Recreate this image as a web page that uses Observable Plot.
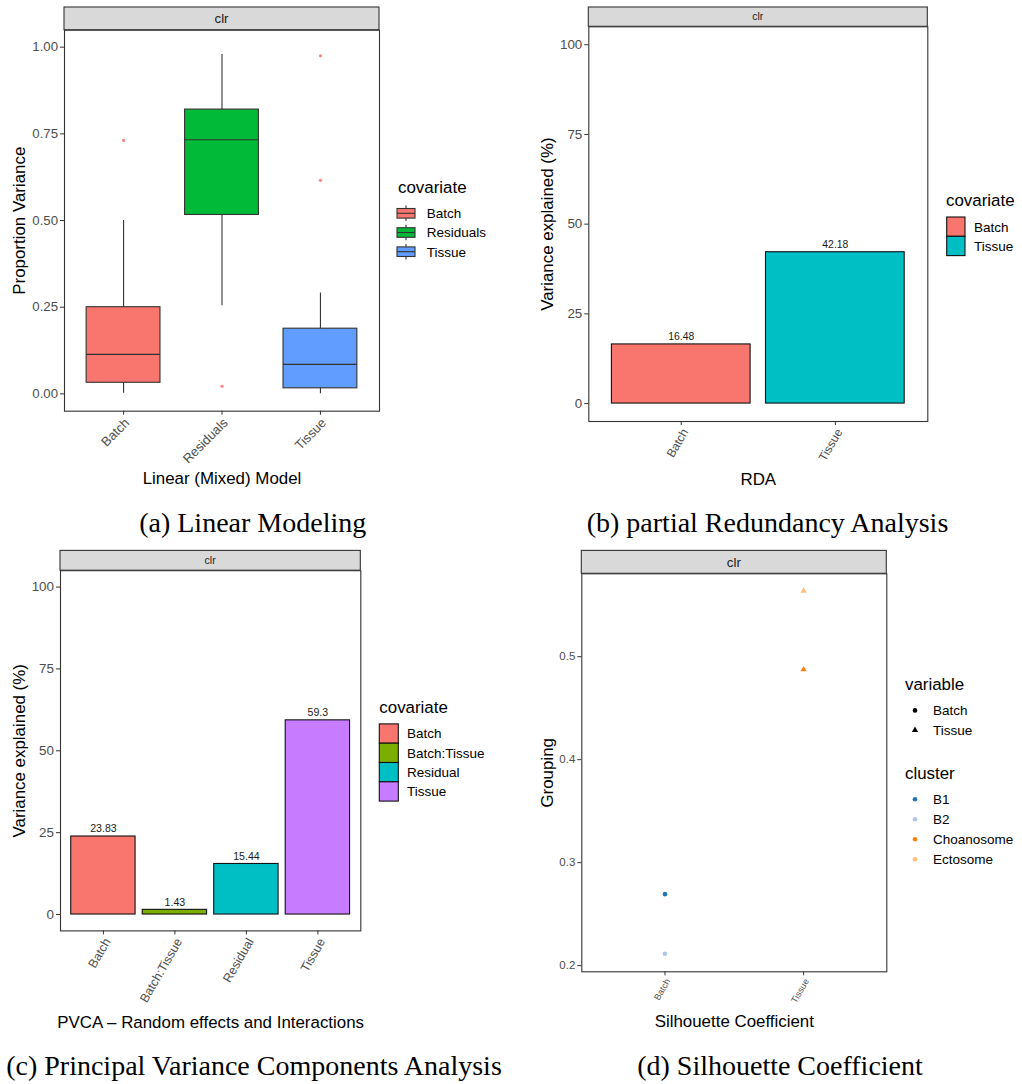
<!DOCTYPE html>
<html>
<head>
<meta charset="utf-8">
<title>Variance partitioning – clr</title>
<script src="https://cdn.jsdelivr.net/npm/d3@7"></script>
<script src="https://cdn.jsdelivr.net/npm/@observablehq/plot@0.6"></script>
<style>
  html, body { margin:0; padding:0; background:#fff; }
  #page { position:relative; width:1022px; height:1084px; overflow:hidden; background:#fff; font-family:"Liberation Sans", Arial, sans-serif; }
  .panel { position:absolute; }
  .panel svg { display:block; }
  g[aria-label="x-axis tick label"], g[aria-label="y-axis tick label"] { fill:#4d4d4d; }
  g[aria-label="x-axis label"], g[aria-label="y-axis label"] { font-size:16.9px; fill:#000; }
  g[aria-label="x-axis tick"], g[aria-label="y-axis tick"] { stroke:#333; }
  #overlay { position:absolute; left:0; top:0; pointer-events:none; }
</style>
</head>
<body>
<div id="page"></div>
<script>
// ---------------- data ----------------
const stripLabel = "clr";

// (a) Linear Modeling – boxplot summaries per covariate
const lmCovariates = ["Batch", "Residuals", "Tissue"];
const lmColors = ["#F8766D", "#00BA38", "#619CFF"];
const lmWhiskerLow = [0.002, 0.254, 0.0];
const lmQ1 = [0.032, 0.516, 0.016];
const lmMedian = [0.114, 0.733, 0.085];
const lmQ3 = [0.25, 0.82, 0.188];
const lmWhiskerHigh = [0.5, 0.979, 0.291];
const lmOutlierCovariate = ["Batch", "Residuals", "Tissue", "Tissue"];
const lmOutlierValue = [0.731, 0.022, 0.975, 0.616];
const lmYTicks = [0, 0.25, 0.5, 0.75, 1];
const lmYDomain = [-0.05, 1.049];

// (b) partial Redundancy Analysis
const rdaCovariates = ["Batch", "Tissue"];
const rdaValues = [16.48, 42.18];
const rdaColors = ["#F8766D", "#00BFC4"];

// (c) PVCA
const pvcaCovariates = ["Batch", "Batch:Tissue", "Residual", "Tissue"];
const pvcaValues = [23.83, 1.43, 15.44, 59.3];
const pvcaColors = ["#F8766D", "#7CAE00", "#00BFC4", "#C77CFF"];

const pctTicks = [0, 25, 50, 75, 100];
const pctDomain = [-5, 105];

// (d) Silhouette coefficient
const silVariables = ["Batch", "Tissue"];
const silShapes = ["circle", "triangle"];
const silClusters = ["B1", "B2", "Choanosome", "Ectosome"];
const silColors = ["#1f77b4", "#aec7e8", "#ff7f0e", "#ffbb78"];
const silPointVariable = ["Batch", "Batch", "Tissue", "Tissue"];
const silPointCluster = ["B1", "B2", "Choanosome", "Ectosome"];
const silPointValue = [0.2694, 0.2115, 0.4876, 0.5639];
const silYTicks = [0.2, 0.3, 0.4, 0.5];
const silYDomain = [0.194, 0.5805];

// ---------------- helpers ----------------
const FONT = '"Liberation Sans", Arial, sans-serif';
const page = document.getElementById("page");
const plotStyle = {fontFamily: FONT, background: "transparent", overflow: "visible", maxWidth: "none"};
function place(svg, left, top) {
  const d = document.createElement("div");
  d.className = "panel";
  d.style.left = left + "px";
  d.style.top = top + "px";
  d.appendChild(svg);
  page.appendChild(d);
}
const frameMark = () => Plot.frame({stroke: "#333", strokeWidth: 1.1});

// ---------------- (a) ----------------
const lmIdx = d3.range(lmCovariates.length);
const outIdx = d3.range(lmOutlierValue.length);
place(Plot.plot({
  width: 390, height: 500,
  marginLeft: 64, marginRight: 11, marginTop: 29.7, marginBottom: 89.3,
  style: plotStyle,
  x: {type: "band", domain: lmCovariates, paddingInner: 0.25, paddingOuter: 0.225, round: false},
  y: {domain: lmYDomain},
  color: {domain: lmCovariates, range: lmColors},
  marks: [
    Plot.ruleX(lmIdx, {x: i => lmCovariates[i], y1: i => lmWhiskerLow[i], y2: i => lmWhiskerHigh[i], stroke: "#333", strokeWidth: 1.1}),
    Plot.barY(lmIdx, {x: i => lmCovariates[i], y1: i => lmQ1[i], y2: i => lmQ3[i], fill: i => lmCovariates[i], stroke: "#333", strokeWidth: 1.1}),
    Plot.tickY(lmIdx, {x: i => lmCovariates[i], y: i => lmMedian[i], stroke: "#333", strokeWidth: 1.1}),
    Plot.dot(outIdx, {x: i => lmOutlierCovariate[i], y: i => lmOutlierValue[i], r: 1.6, fill: "#ff1a1a", fillOpacity: 0.55}),
    frameMark(),
    Plot.axisY({ticks: lmYTicks, tickFormat: d3.format(".2f"), tickSize: 4, tickPadding: 2.5, fontSize: 13.2,
      label: "Proportion Variance", labelAnchor: "center", labelArrow: "none", labelOffset: 52}),
    Plot.axisX({tickSize: 4, tickPadding: 2, tickRotate: -45, textAnchor: "end", lineAnchor: "top", fontSize: 13,
      label: "Linear (Mixed) Model", labelAnchor: "center", labelArrow: "none", labelOffset: 73})
  ]
}), 0, 0);

// ---------------- (b) ----------------
const rdaIdx = d3.range(rdaCovariates.length);
place(Plot.plot({
  width: 420, height: 500,
  marginLeft: 68.3, marginRight: 12.7, marginTop: 26.3, marginBottom: 79,
  style: plotStyle,
  x: {type: "band", domain: rdaCovariates, paddingInner: 0.1, paddingOuter: 0.15, round: false},
  y: {domain: pctDomain},
  color: {domain: rdaCovariates, range: rdaColors},
  marks: [
    Plot.barY(rdaIdx, {x: i => rdaCovariates[i], y: i => rdaValues[i], fill: i => rdaCovariates[i], stroke: "#111", strokeWidth: 1.1}),
    Plot.text(rdaIdx, {x: i => rdaCovariates[i], y: i => rdaValues[i], text: i => String(rdaValues[i]), dy: -4, lineAnchor: "bottom", fontSize: 10.4, fill: "#1a1a1a"}),
    frameMark(),
    Plot.axisY({ticks: pctTicks, tickSize: 4, tickPadding: 2.5, fontSize: 13.4,
      label: "Variance explained (%)", labelAnchor: "center", labelArrow: "none", labelOffset: 47.6}),
    Plot.axisX({tickSize: 4, tickPadding: 2, tickRotate: -60, textAnchor: "end", lineAnchor: "top", fontSize: 12,
      label: "RDA", labelAnchor: "center", labelArrow: "none", labelOffset: 63})
  ]
}), 520, 0);

// ---------------- (c) ----------------
const pvcaIdx = d3.range(pvcaCovariates.length);
place(Plot.plot({
  width: 375, height: 500,
  marginLeft: 60, marginRight: 14.7, marginTop: 30.2, marginBottom: 109.6,
  style: plotStyle,
  x: {type: "band", domain: pvcaCovariates, paddingInner: 0.1, paddingOuter: 0.15, round: false},
  y: {domain: pctDomain},
  color: {domain: pvcaCovariates, range: pvcaColors},
  marks: [
    Plot.barY(pvcaIdx, {x: i => pvcaCovariates[i], y: i => pvcaValues[i], fill: i => pvcaCovariates[i], stroke: "#111", strokeWidth: 1.1}),
    Plot.text(pvcaIdx, {x: i => pvcaCovariates[i], y: i => pvcaValues[i], text: i => String(pvcaValues[i]), dy: -4, lineAnchor: "bottom", fontSize: 10.6, fill: "#1a1a1a"}),
    frameMark(),
    Plot.axisY({ticks: pctTicks, tickSize: 4, tickPadding: 2.5, fontSize: 13.4,
      label: "Variance explained (%)", labelAnchor: "center", labelArrow: "none", labelOffset: 47.7}),
    Plot.axisX({tickSize: 4, tickPadding: 2, tickRotate: -60, textAnchor: "end", lineAnchor: "top", fontSize: 12.5,
      label: "PVCA – Random effects and Interactions", labelAnchor: "center", labelArrow: "none", labelOffset: 96.6})
  ]
}), 0, 540);

// ---------------- (d) ----------------
const silIdx = d3.range(silPointValue.length);
place(Plot.plot({
  width: 380, height: 500,
  marginLeft: 61.3, marginRight: 13.7, marginTop: 33.3, marginBottom: 68.7,
  style: plotStyle,
  x: {type: "point", domain: silVariables, padding: 0.6, round: false},
  y: {domain: silYDomain},
  color: {domain: silClusters, range: silColors},
  symbol: {domain: silVariables, range: silShapes},
  marks: [
    frameMark(),
    Plot.dot(silIdx, {x: i => silPointVariable[i], y: i => silPointValue[i], fill: i => silPointCluster[i], symbol: i => silPointVariable[i], r: 2.3}),
    Plot.axisY({ticks: silYTicks, tickFormat: d3.format(".1f"), tickSize: 4, tickPadding: 2.5, fontSize: 11.5,
      label: "Grouping", labelAnchor: "center", labelArrow: "none", labelOffset: 41.3}),
    Plot.axisX({tickSize: 4, tickPadding: 2, tickRotate: -60, textAnchor: "end", lineAnchor: "top", fontSize: 9,
      label: "Silhouette Coefficient", labelAnchor: "center", labelArrow: "none", labelOffset: 55.5})
  ]
}), 520, 540);

// ---------------- strips, legends, captions ----------------
const ov = d3.select(page).append("svg").attr("id", "overlay")
  .attr("width", 1022).attr("height", 1084).style("font-family", FONT);

function strip(x0, x1, y0, y1, size) {
  ov.append("rect").attr("x", x0).attr("y", y0).attr("width", x1 - x0).attr("height", y1 - y0)
    .attr("fill", "#d9d9d9").attr("stroke", "#333").attr("stroke-width", 1.1);
  ov.append("text").attr("x", (x0 + x1) / 2).attr("y", (y0 + y1) / 2).attr("dy", "0.36em")
    .attr("text-anchor", "middle").attr("font-size", size).attr("fill", "#1a1a1a").text(stripLabel);
}
strip(64, 379, 7, 29.7, 13.3);
strip(588.3, 927.3, 7, 26.3, 10.4);
strip(60, 360.3, 550.4, 570.2, 10.5);
strip(581.3, 886.3, 550.4, 573.3, 13.3);

function legendTitle(x, cy, text) {
  ov.append("text").attr("x", x).attr("y", cy).attr("dy", "0.36em").attr("font-size", 16.9).attr("fill", "#000").text(text);
}
function legendLabel(x, cy, text) {
  ov.append("text").attr("x", x).attr("y", cy).attr("dy", "0.36em").attr("font-size", 13.5).attr("fill", "#000").text(text);
}

// (a) boxplot keys
legendTitle(398, 187, "covariate");
lmCovariates.forEach((c, i) => {
  const cy = 213.3 + i * 19.2, x0 = 397, x1 = 415, cx = (x0 + x1) / 2;
  const g = ov.append("g").attr("stroke", "#333").attr("stroke-width", 1.1);
  g.append("line").attr("x1", cx).attr("x2", cx).attr("y1", cy - 7.7).attr("y2", cy - 4.8);
  g.append("line").attr("x1", cx).attr("x2", cx).attr("y1", cy + 4.8).attr("y2", cy + 7.7);
  g.append("rect").attr("x", x0).attr("y", cy - 4.8).attr("width", x1 - x0).attr("height", 9.6).attr("fill", lmColors[i]);
  g.append("line").attr("x1", x0).attr("x2", x1).attr("y1", cy).attr("y2", cy);
  legendLabel(426.7, cy, c);
});

// (b) fill keys
legendTitle(946, 200, "covariate");
rdaCovariates.forEach((c, i) => {
  const y0 = 217 + i * 19.3;
  ov.append("rect").attr("x", 946.7).attr("y", y0).attr("width", 18.3).attr("height", 19.3)
    .attr("fill", rdaColors[i]).attr("stroke", "#111").attr("stroke-width", 1.1);
  legendLabel(974, y0 + 9.65, c);
});

// (c) fill keys
legendTitle(379.3, 707.2, "covariate");
pvcaCovariates.forEach((c, i) => {
  const y0 = 723.9 + i * 19.3;
  ov.append("rect").attr("x", 379.3).attr("y", y0).attr("width", 19).attr("height", 19.3)
    .attr("fill", pvcaColors[i]).attr("stroke", "#111").attr("stroke-width", 1.1);
  legendLabel(407, y0 + 9.65, c);
});

// (d) shape + colour legends
const symR = 2.3;
legendTitle(905, 684, "variable");
silVariables.forEach((v, i) => {
  const cy = 710.4 + i * 19.7;
  const sym = silShapes[i] === "triangle" ? d3.symbolTriangle : d3.symbolCircle;
  ov.append("path").attr("d", d3.symbol(sym, Math.PI * symR * symR)()).attr("transform", `translate(915,${cy})`).attr("fill", "#000");
  legendLabel(933, cy, v);
});
legendTitle(905, 773.2, "cluster");
silClusters.forEach((c, i) => {
  const cy = 799.2 + i * 20;
  ov.append("circle").attr("cx", 915).attr("cy", cy).attr("r", symR).attr("fill", silColors[i]);
  legendLabel(933, cy, c);
});

// captions
const captions = [
  {text: "(a) Linear Modeling", x: 252.7, y: 531.7},
  {text: "(b) partial Redundancy Analysis", x: 767.5, y: 531.7},
  {text: "(c) Principal Variance Components Analysis", x: 254, y: 1075},
  {text: "(d) Silhouette Coefficient", x: 780, y: 1075}
];
captions.forEach(c => {
  ov.append("text").attr("x", c.x).attr("y", c.y).attr("text-anchor", "middle")
    .attr("font-family", '"Liberation Serif", "DejaVu Serif", serif').attr("font-size", 28).attr("fill", "#000").text(c.text);
});
</script>
</body>
</html>
